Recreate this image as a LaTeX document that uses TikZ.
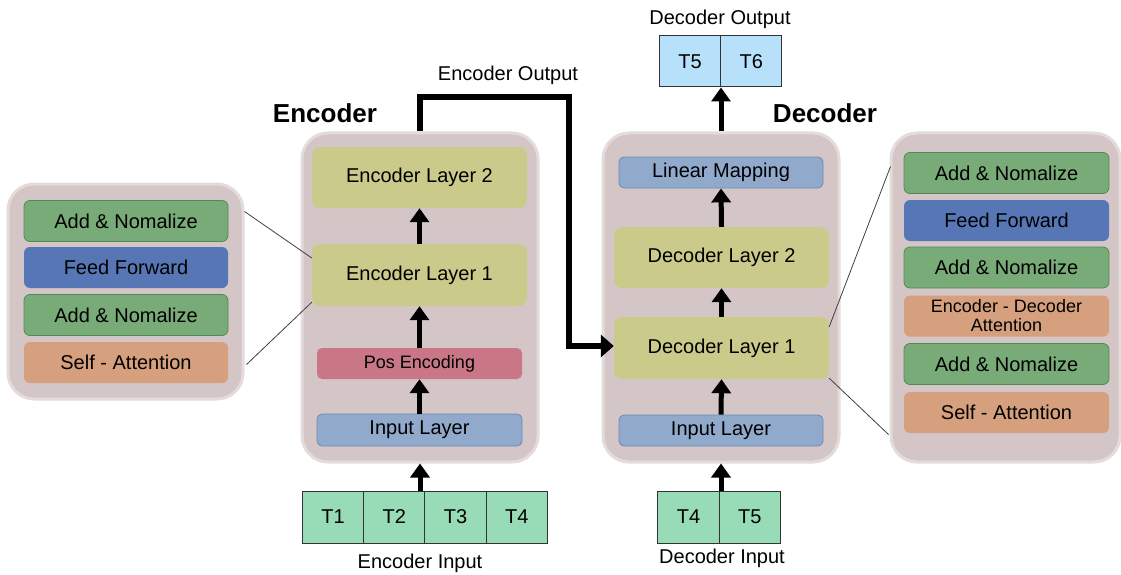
\documentclass[tikz,border=0pt]{standalone}
\usepackage{fontspec}
\setmainfont{Liberation Sans}
\usetikzlibrary{arrows.meta,calc}

\definecolor{panelfill}{HTML}{D4C6C7}
\definecolor{paneledge}{HTML}{E4DBDB}
\definecolor{layerfill}{HTML}{CACB8B}
\definecolor{inputfill}{HTML}{91A9CB}
\definecolor{inputedge}{HTML}{6A8AB9}
\definecolor{posfill}{HTML}{C97686}
\definecolor{normfill}{HTML}{78AB78}
\definecolor{normedge}{HTML}{4F8A55}
\definecolor{fffill}{HTML}{5676B5}
\definecolor{attfill}{HTML}{D6A07F}
\definecolor{tokfill}{HTML}{97DBB7}
\definecolor{outfill}{HTML}{B7E0FA}

\tikzset{
  txt/.style={font=\fontsize{20}{23}\selectfont, text=black, inner sep=0pt},
  panel/.style={fill=panelfill, draw=paneledge, line width=3pt, rounded corners=26pt, inner sep=0pt},
  layerbox/.style={txt, fill=layerfill, rounded corners=8pt, minimum width=215pt, minimum height=61pt},
  inbox/.style={txt, fill=inputfill, draw=inputedge, line width=0.8pt, rounded corners=5pt, minimum width=204pt, minimum height=31pt},
  posbox/.style={font=\fontsize{18}{21}\selectfont, inner sep=0pt, fill=posfill, rounded corners=5pt, minimum width=205pt, minimum height=31pt},
  subbox/.style={txt, rounded corners=6pt, minimum width=205pt, minimum height=41pt},
  normbox/.style={subbox, fill=normfill, draw=normedge, line width=0.8pt},
  ffbox/.style={subbox, fill=fffill},
  attbox/.style={subbox, fill=attfill},
  tok/.style={txt, draw=black!80, line width=1pt, minimum height=52pt, minimum width=61.25pt},
  flow/.style={line width=5pt, -{Triangle[length=14pt,width=19pt]}},
  zoomline/.style={draw=black!75, line width=0.8pt},
  title/.style={font=\bfseries\fontsize{26}{30}\selectfont, inner sep=0pt}
}

\begin{document}
\begin{tikzpicture}[x=1pt,y=-1pt]
\useasboundingbox (0,0) rectangle (1121,575);

% ---- panels ----
\node[panel, minimum width=235pt, minimum height=215pt] (encdet) at (125.5,291.5) {};
\node[panel, minimum width=236pt, minimum height=329pt] (encp) at (420,297.5) {};
\node[panel, minimum width=236pt, minimum height=329pt] (decp) at (721,297.5) {};
\node[panel, minimum width=229pt, minimum height=329pt] (decdet) at (1005.5,297.5) {};

% ---- encoder layer detail ----
\node[normbox, minimum width=204pt] (ean2) at (126,221) {Add \& Nomalize};
\node[ffbox,   minimum width=204pt] (eff)  at (126,267.5) {Feed Forward};
\node[normbox, minimum width=204pt] (ean1) at (126,315) {Add \& Nomalize};
\node[attbox,  minimum width=204pt] (esa)  at (126,362.5) {Self - Attention};

% ---- encoder stack ----
\node[layerbox] (el2) at (419.5,177.5) {Encoder Layer 2};
\node[layerbox, minimum height=62pt] (el1) at (419.5,275) {Encoder Layer 1};
\node[posbox] (pos) at (419.5,363.5) {Pos Encoding};
\node[inbox, minimum width=205pt, minimum height=32pt] (ein) at (419.5,430) {Input Layer};

% ---- decoder stack ----
\node[inbox] (lin) at (721,172.5) {Linear Mapping};
\node[layerbox] (dl2) at (721.5,257.5) {Decoder Layer 2};
\node[layerbox, minimum height=62pt] (dl1) at (721.5,348) {Decoder Layer 1};
\node[inbox] (din) at (721,430.5) {Input Layer};

% ---- decoder layer detail ----
\node[normbox] (dan3) at (1006.5,173) {Add \& Nomalize};
\node[ffbox]   (dff)  at (1006.5,220.5) {Feed Forward};
\node[normbox] (dan2) at (1006.5,267.5) {Add \& Nomalize};
\node[attbox, font=\fontsize{18}{19}\selectfont, align=center] (deda) at (1006.5,316) {Encoder - Decoder\\Attention};
\node[normbox] (dan1) at (1006.5,364) {Add \& Nomalize};
\node[attbox]  (dsa)  at (1006.5,412.5) {Self - Attention};

% ---- token rows ----
\node[tok, fill=tokfill] (t1) at (333,517) {T1};
\node[tok, fill=tokfill] (t2) at (394.25,517) {T2};
\node[tok, fill=tokfill] (t3) at (455.5,517) {T3};
\node[tok, fill=tokfill] (t4) at (516.75,517) {T4};
\node[tok, fill=tokfill] (dt4) at (688.5,517) {T4};
\node[tok, fill=tokfill] (dt5) at (749.75,517) {T5};
\node[tok, fill=outfill, minimum height=51pt] (ot5) at (690,61.5) {T5};
\node[tok, fill=outfill, minimum height=51pt] (ot6) at (751.25,61.5) {T6};

% ---- labels ----
\node[txt] (encin)  at (420,563) {Encoder Input};
\node[txt] (decin)  at (722,558) {Decoder Input};
\node[txt] (decout) at (720,19) {Decoder Output};
\node[txt] (encout) at (508,75) {Encoder Output};
\node[title] (enct) at (325,113) {Encoder};
\node[title] (dect) at (825,113) {Decoder};

% ---- zoom guide lines (shifts are in canvas units: positive = up) ----
\draw[zoomline] ([yshift=-29pt]encdet.north east) -- ([yshift=17pt]el1.west);
\draw[zoomline] ([xshift=2pt,yshift=36pt]encdet.south east) -- ([yshift=4pt]el1.south west);
\draw[zoomline] ([yshift=-10pt]dl1.north east) -- ([xshift=1pt,yshift=-35pt]decdet.north west);
\draw[zoomline] ([yshift=1pt]dl1.south east) -- ([xshift=-1pt,yshift=29pt]decdet.south west);

% ---- encoder flow ----
\draw[flow] (encp.south |- t2.north) -- (encp.south);
\draw[flow] (ein.north) -- (pos.south);
\draw[flow] (pos.north) -- (el1.south);
\draw[flow] (el1.north) -- (el2.south);

% ---- decoder flow ----
\draw[flow] (decp.south |- dt4.north) -- (decp.south);
\draw[flow] (din.north) -- (dl1.south);
\draw[flow] (dl1.north) -- (dl2.south);
\draw[flow] (dl2.north) -- (lin.south);
\draw[flow] (decp.north) -- (decp.north |- ot5.south);

% ---- encoder output into decoder layer 1 ----
\coordinate (bendA) at (420,97);
\coordinate (bendB) at (569,97);
\coordinate (bendC) at (569,346);
\draw[line width=6pt, -{Triangle[length=13pt,width=22pt]}]
  (encp.north) -- (bendA) -- (bendB) -- (bendC) -- (bendC -| dl1.west);
\end{tikzpicture}
\end{document}
